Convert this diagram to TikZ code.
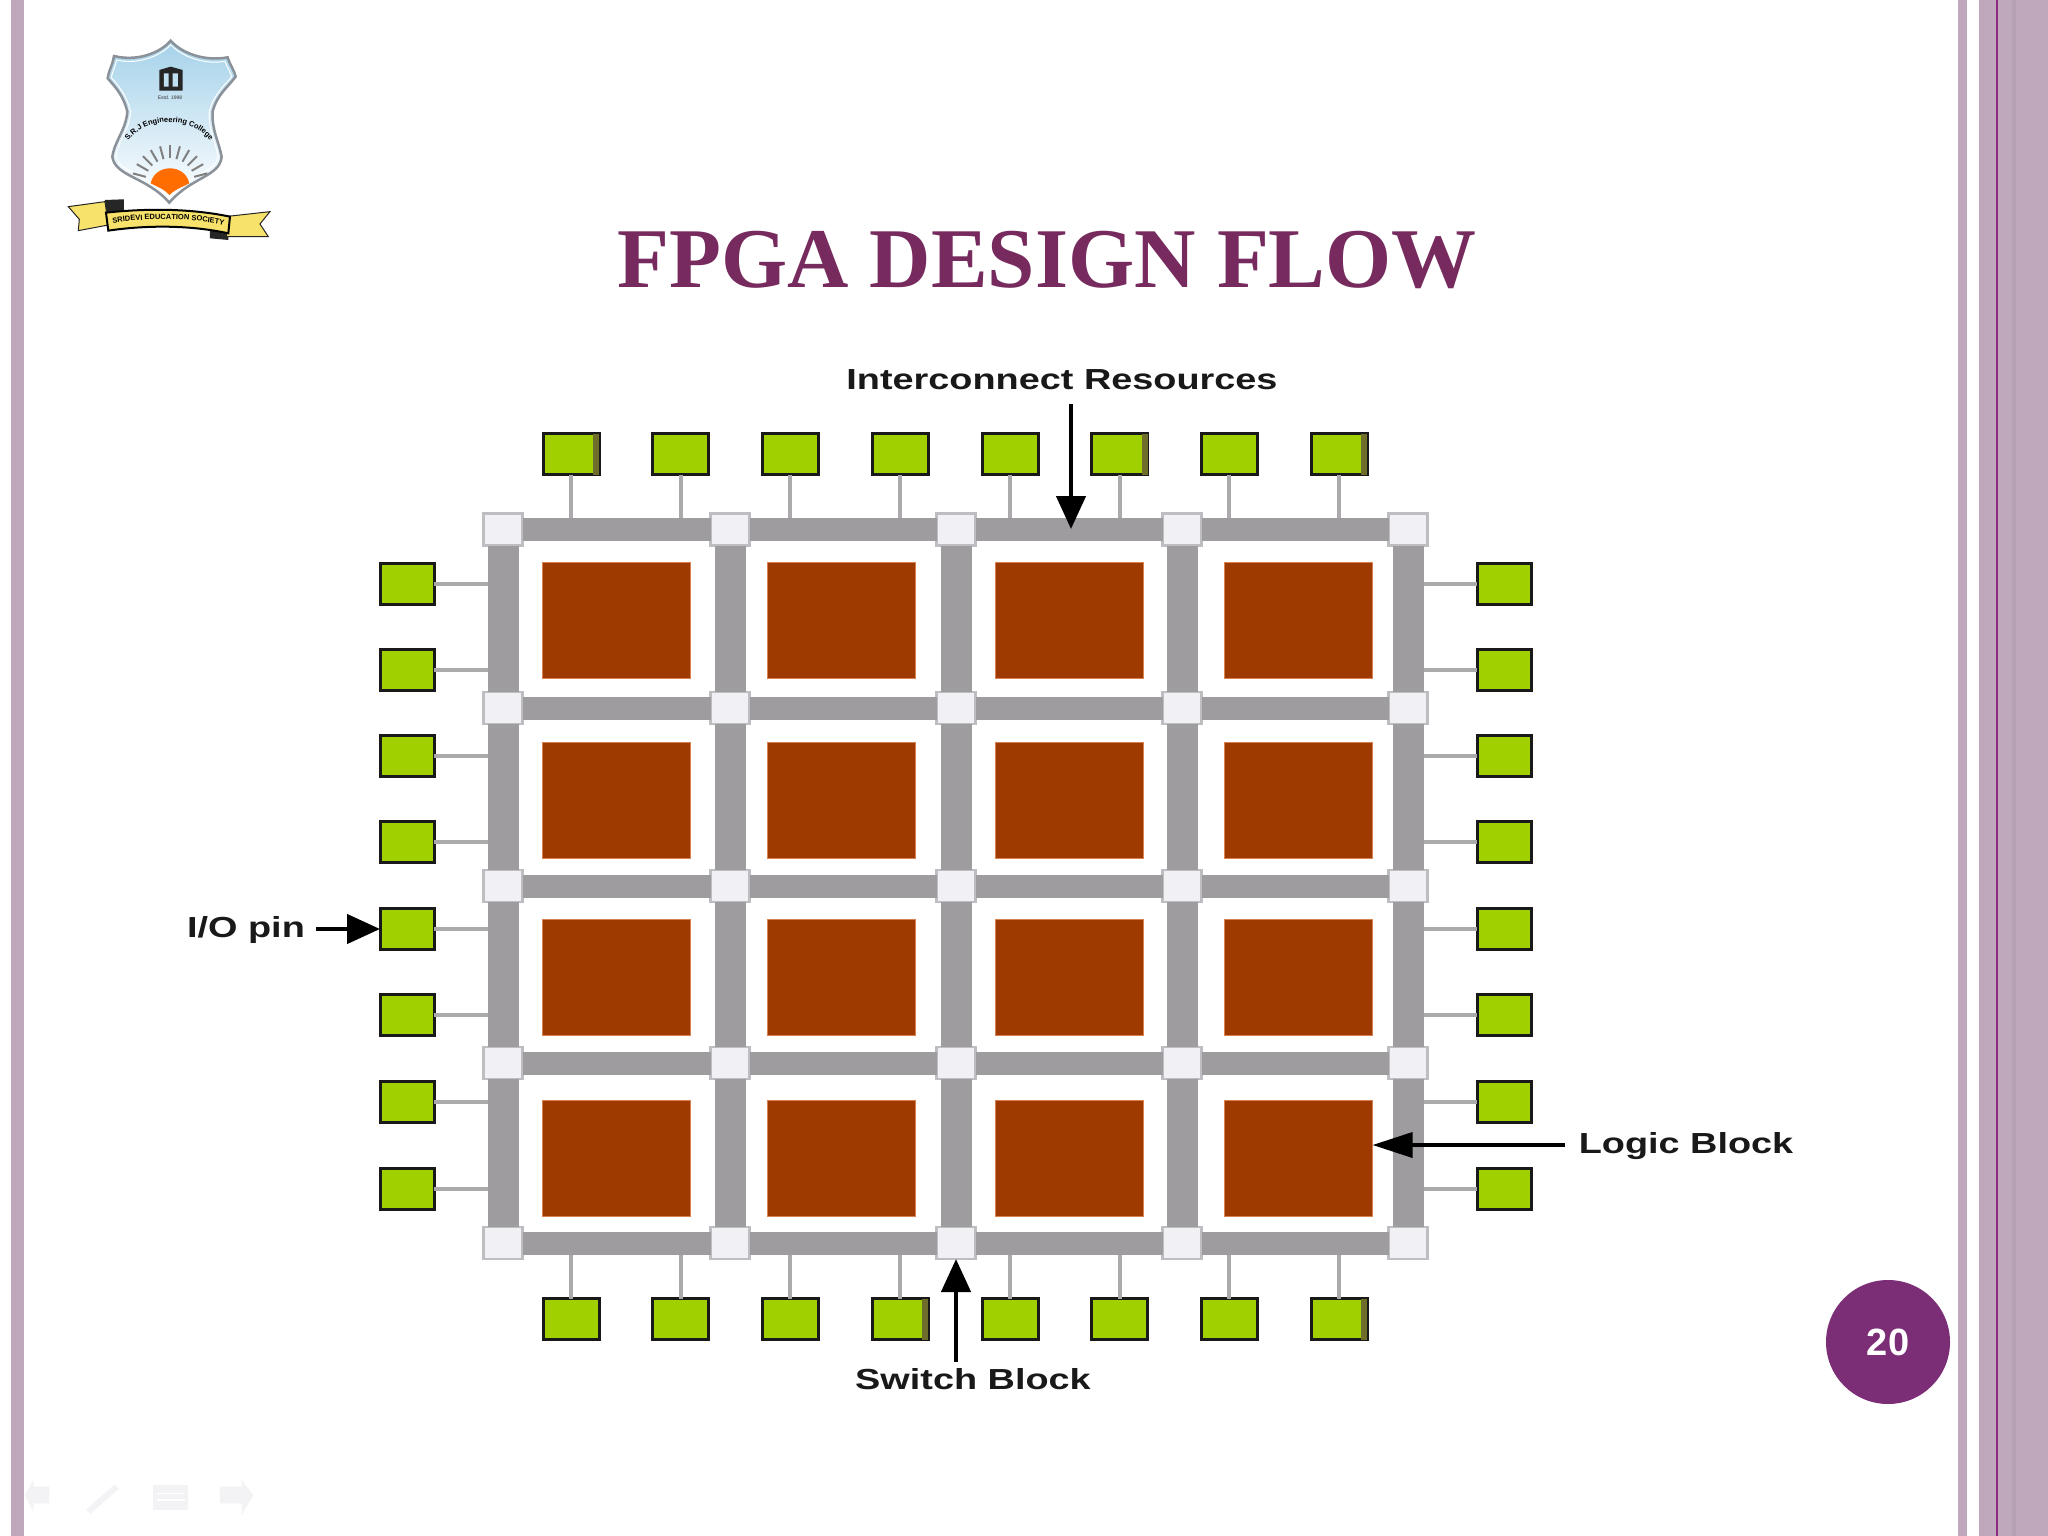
\documentclass[tikz,border=0pt]{standalone}
\usepackage{fontspec}
\setmainfont{Liberation Sans}
\newfontfamily\titlefont{Liberation Serif}
\usetikzlibrary{arrows.meta,decorations.text}
\definecolor{barc}{HTML}{BFA8BC}
\definecolor{barline}{HTML}{8E2C80}
\definecolor{bardark}{HTML}{B59FB3}
\definecolor{titlec}{HTML}{772A5E}
\definecolor{circc}{HTML}{7B2D75}
\definecolor{wirec}{HTML}{9E9C9F}
\definecolor{stubc}{HTML}{ABA9AC}
\definecolor{swfill}{HTML}{F1F0F4}
\definecolor{swedge}{HTML}{BEBDC1}
\definecolor{logicc}{HTML}{9E3A00}
\definecolor{logice}{HTML}{D9824F}
\definecolor{pinc}{HTML}{A0D000}
\definecolor{pinshade}{HTML}{6E6E2A}
\definecolor{navc}{HTML}{F3F3F5}
\definecolor{ribbon}{HTML}{F7E26B}
\definecolor{shieldtop}{HTML}{A5D2EA}
\definecolor{shieldedge}{HTML}{8B9199}
\tikzset{
  switchbox/.style={draw=swedge,line width=2.5pt,fill=swfill,minimum width=39pt,minimum height=32pt,inner sep=0pt,outer sep=0pt},
  logicbox/.style={draw=logice,line width=1pt,fill=logicc,minimum width=148pt,minimum height=116pt,inner sep=0pt,outer sep=0pt},
  pinbox/.style={draw=black!90,line width=3pt,fill=pinc,minimum width=54pt,minimum height=41pt,inner sep=0pt,outer sep=0pt},
  hwire/.style={wirec,line width=23pt},
  vwire/.style={wirec,line width=31pt},
  stub/.style={stubc,line width=4pt},
  callout/.style={black,line width=4.5pt,-{Triangle[length=33pt,width=29pt]}},
  lbl/.style={font=\fontsize{29}{34}\selectfont\bfseries,text=black!90,inner sep=0pt,transform shape,xscale=1.305},
}
\begin{document}
\begin{tikzpicture}[x=1pt,y=-1pt]
\useasboundingbox (0,0) rectangle (2048,1536);
\fill[white] (0,0) rectangle (2048,1536);
% side bars
\fill[barc] (11,0) rectangle (24,1536);
\fill[barc] (1958,0) rectangle (1967,1536);
\fill[barc] (1979,0) rectangle (2048,1536);
\fill[bardark] (2012,0) rectangle (2016,1536);
\fill[barline] (1996,0) rectangle (1998,1536);
% title
\node[font=\titlefont\bfseries\fontsize{85}{94}\selectfont,text=titlec,inner sep=0pt] (title) at (1047,260) {FPGA DESIGN FLOW};
% page number
\node[circle,fill=circc,minimum size=124pt,inner sep=0pt,text=white,font=\fontsize{38}{44}\selectfont\bfseries] (page) at (1888,1342) {\raisebox{-2.5pt}{20}};
% logic blocks
\foreach \x [count=\i] in {616,841.5,1069.5,1298.5}
  \foreach \y [count=\j] in {620,800,977.5,1158}
    \node[logicbox] (lb-\i-\j) at (\x,\y) {};
% switch blocks
\foreach \x [count=\i] in {503,730,956,1182,1408}
  \foreach \y [count=\j] in {529.5,708,886,1063,1243}
    \node[switchbox] (sw-\i-\j) at (\x,\y) {};
% I/O pins
\foreach \x [count=\k] in {571,680.5,790,900,1010,1119.5,1229,1339}{
  \node[pinbox,minimum width=56pt] (top-\k) at (\x,454) {};
  \node[pinbox,minimum width=56pt] (bot-\k) at (\x,1319) {};
}
\foreach \y [count=\k] in {584,670,756,842,929,1015,1102,1189}{
  \node[pinbox] (lft-\k) at (407,\y) {};
  \node[pinbox] (rgt-\k) at (1504,\y) {};
}
% darker right edges on some pins
\foreach \p in {top-1,top-6,top-8,bot-4,bot-8}
  \fill[pinshade] ([xshift=-6pt]\p.north east) rectangle (\p.south east);
% stubs
\foreach \k in {1,...,8}{
  \draw[stub] (top-\k.south) -- (top-\k.south |- sw-1-1.center);
  \draw[stub] (bot-\k.north) -- (bot-\k.north |- sw-1-5.center);
  \draw[stub] (lft-\k.east) -- (lft-\k.east -| sw-1-1.center);
  \draw[stub] (rgt-\k.west) -- (rgt-\k.west -| sw-5-1.center);
}
% wires
\foreach \i/\n in {1/2,2/3,3/4,4/5}
  \foreach \j in {1,...,5}
    \draw[hwire] (sw-\i-\j) -- (sw-\n-\j);
\foreach \i in {1,...,5}
  \foreach \j/\n in {1/2,2/3,3/4,4/5}
    \draw[vwire] (sw-\i-\j) -- (sw-\i-\n);
% labels
\node[lbl] (lint) at (1062,380) {Interconnect Resources};
\node[lbl] (lio) at (246,930) {I/O pin};
\node[lbl] (llog) at (1686,1146) {Logic Block};
\node[lbl] (lsw) at (973,1379) {Switch Block};
% callouts
\coordinate (cint) at (1071,529);
\coordinate (cints) at (1071,404);
\coordinate (cio) at (316,929);
\coordinate (clog) at (1565,1145);
\coordinate (csw) at (956,1362);
\draw[callout] (cints) -- (cint);
\draw[callout] (cio) -- (lft-5.west);
\draw[callout,-{Triangle[length=40pt,width=25pt]},line width=3.5pt] (clog) -- (clog -| lb-4-4.east);
\draw[callout] (csw) -- (sw-3-5.south);
% navigation icons
\begin{scope}[shift={(0,1440)},x=0.3333pt,y=-0.3333pt]
  \fill[navc] (75,165) -- (100,120) -- (100,140) -- (148,140) -- (148,190) -- (100,190) -- (100,215) -- cycle;
  \draw[navc,line width=6pt] (265,215) -- (350,140);
  \fill[navc] (460,135) rectangle (565,210);
  \draw[white,line width=1.5pt] (470,160) -- (555,160) (470,180) -- (555,180);
  \fill[navc] (760,165) -- (725,120) -- (725,140) -- (660,140) -- (660,190) -- (725,190) -- (725,225) -- cycle;
\end{scope}
% logo
\begin{scope}[shift={(40,20)},x=0.3333pt,y=-0.3333pt]
  \path[top color=shieldtop,bottom color=white,draw=shieldedge,line width=2.5pt]
    (392,62) .. controls (360,100) and (290,125) .. (222,108)
    .. controls (218,135) and (205,155) .. (203,175)
    .. controls (225,200) and (250,225) .. (262,275)
    .. controls (258,330) and (225,360) .. (217,410)
    .. controls (225,470) and (320,470) .. (388,548)
    .. controls (455,470) and (540,470) .. (545,410)
    .. controls (535,360) and (515,330) .. (518,275)
    .. controls (530,225) and (565,200) .. (587,170)
    .. controls (585,155) and (570,135) .. (563,112)
    .. controls (495,125) and (425,100) .. (392,62) -- cycle;
  \draw[white,line width=1pt]
    (392,74) .. controls (360,110) and (290,135) .. (230,120)
    .. controls (226,140) and (216,158) .. (214,173)
    .. controls (236,198) and (260,225) .. (272,275)
    .. controls (268,330) and (236,360) .. (228,408)
    .. controls (236,458) and (320,460) .. (388,532)
    .. controls (450,460) and (530,458) .. (534,408)
    .. controls (525,360) and (505,330) .. (508,275)
    .. controls (520,225) and (552,198) .. (575,170)
    .. controls (573,158) and (560,140) .. (555,124)
    .. controls (495,135) and (425,110) .. (392,74) -- cycle;
  % book
  \fill[black!85] (358,150) -- (392,140) -- (428,150) -- (428,212) -- (358,212) -- cycle;
  \fill[shieldtop!70] (372,160) rectangle (386,200) (398,160) rectangle (414,200);
  \node[font=\fontsize{5}{6}\selectfont,text=black!80,inner sep=0pt] (estd) at (390,232) {Estd. 1998};
  % rays
  \foreach \a in {15,30,...,165}
    \draw[black!50,line width=2pt] ({390+75*cos(\a)},{490-75*sin(\a)}) -- ({390+115*cos(\a)},{490-115*sin(\a)});
  % sun
  \fill[orange!85!red] (332,490) .. controls (345,430) and (435,430) .. (448,490) .. controls (430,500) and (410,505) .. (388,525) .. controls (370,505) and (350,500) .. (332,490) -- cycle;
  \path[decorate,decoration={text along path,text align=center,
        text={|\fontsize{7.5}{9}\selectfont\bfseries|S.R.J Engineering College}}]
    (240,415) .. controls (275,270) and (500,270) .. (535,415);
  % ribbon
  \fill[black!85] (195,540) -- (252,538) -- (252,580) -- (195,580) -- cycle;
  \fill[black!85] (510,625) -- (565,625) -- (565,660) -- (510,655) -- cycle;
  \path[fill=ribbon,draw=black!85,line width=1pt] (85,560) -- (195,545) -- (205,615) -- (115,632) -- (118,598) -- cycle;
  \path[fill=ribbon,draw=black!85,line width=1pt] (555,590) -- (690,575) -- (660,612) -- (685,650) -- (560,650) -- cycle;
  \path[fill=ribbon,draw=black,line width=2pt] (198,578) .. controls (320,565) and (450,565) .. (570,590) -- (565,640) .. controls (450,615) and (320,615) .. (205,632) -- cycle;
  \path[decorate,decoration={text along path,text align=center,
        text={|\fontsize{7.5}{9}\selectfont\bfseries|SRIDEVI EDUCATION SOCIETY}}]
    (205,612) .. controls (320,592) and (450,592) .. (565,618);
\end{scope}
\end{tikzpicture}
\end{document}
